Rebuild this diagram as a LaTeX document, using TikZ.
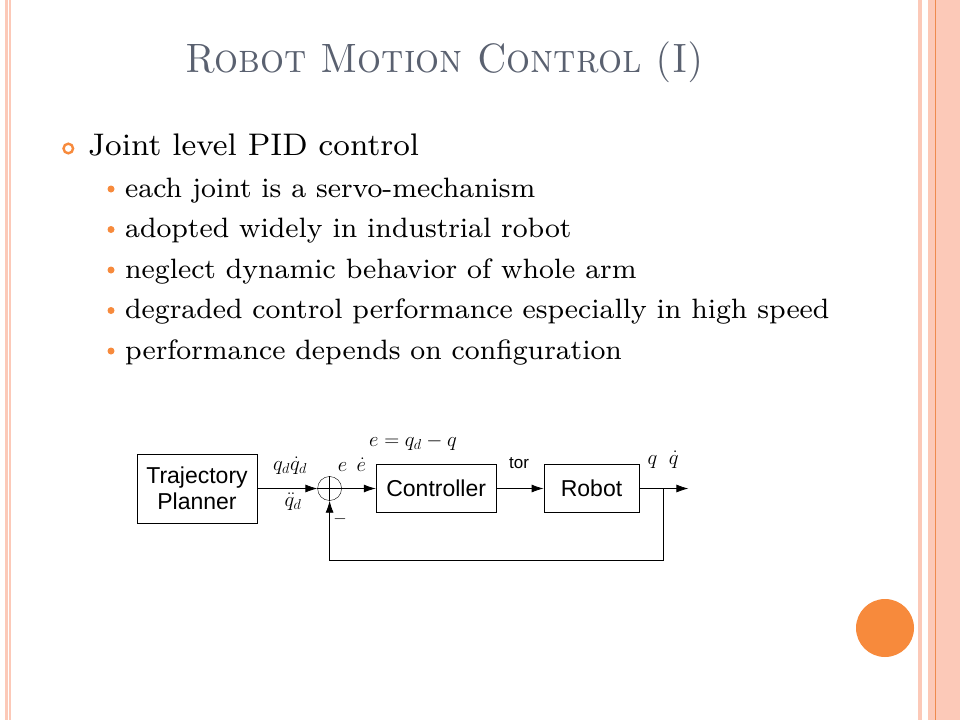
\documentclass[tikz,border=0pt]{standalone}
\usepackage{fontspec}
\newfontfamily\diagfont{Liberation Sans}
\newfontfamily\bodyfont{lmroman8-regular.otf}
\usetikzlibrary{arrows.meta,calc,positioning}
\definecolor{slideorange}{HTML}{F78A3C}
\definecolor{stripepink}{HTML}{FCC9B8}
\definecolor{stripeline}{HTML}{EE8A4E}
\definecolor{titlegray}{HTML}{5A6170}

\begin{document}
\begin{tikzpicture}[
    x=1pt, y=1pt,
    node distance=60pt and 60pt,
    block/.style={draw, thick, minimum height=48pt, align=center, inner sep=0pt, font=\diagfont\fontsize{23}{26}\selectfont},
    sumnode/.style={draw, circle, minimum size=24pt, inner sep=0pt},
    lbl/.style={inner sep=0pt, font=\fontsize{20}{24}\selectfont},
    arrow/.style={-{Latex[length=12pt,width=8pt]}, thick},
    subitem/.style={anchor=base west, inner sep=0pt, font=\bodyfont\fontsize{28}{31}\selectfont},
    dot/.style={circle, fill=slideorange, inner sep=0pt, minimum size=7pt}
]
\useasboundingbox (0,0) rectangle (960,-720);
\fill[white] (0,0) rectangle (960,-720);

% Slide border
\fill[stripepink] (5,0) rectangle (11,-720);
\draw[white, line width=0.6pt] (8,0) -- (8,-720);
\fill[stripepink] (918,0) rectangle (922,-720);
\fill[stripepink] (928,0) rectangle (960,-720);
\draw[stripeline, line width=1.4pt] (935.5,0) -- (935.5,-720);
\fill[slideorange] (885,-628) circle (29);

% Title
\node[anchor=base west, inner sep=0pt, text=titlegray, font=\fontsize{41}{44}\selectfont] (title) at (185,-72) {\scalebox{0.92}[1]{\textsc{Robot Motion Control (I)}}};

% Bullets
\draw[slideorange, line width=2.4pt] (68.3,-148.5) circle (4.8);
\node[anchor=base west, inner sep=0pt, font=\bodyfont\fontsize{31.2}{34}\selectfont] (head) at (88,-155.5) {Joint level PID control};
\foreach \txt [count=\i] in {each joint is a servo-mechanism,
    adopted widely in industrial robot,
    neglect dynamic behavior of whole arm,
    degraded control performance especially in high speed,
    performance depends on configuration} {
  \node[dot] (d\i) at (111,-189-40.5*\i+40.5) {};
  \node[subitem] (s\i) at (125,-197-40.5*\i+40.5) {\txt};
}

% Block diagram
\node[block, minimum width=120pt, minimum height=69pt] (planner) at (197,-488.5) {Trajectory\\Planner};
\node[sumnode, right=60pt of planner] (sum) {};
\draw (sum.north) -- (sum.south) (sum.west) -- (sum.east);
\node[block, minimum width=120pt, right=34pt of sum] (ctrl) {Controller};
\node[block, minimum width=95pt, right=47pt of ctrl] (robot) {Robot};
\coordinate[right=49pt of robot] (out);
\coordinate (branch) at ($(robot.east)!0.48!(out)$);
\coordinate (fb) at ($(branch)+(0,-72)$);

% Labels
\node[lbl] (qd) at (290,-466) {$q_d\dot q_d$};
\node[lbl] (qdd) at (293,-502) {$\ddot q_d$};
\node[lbl] (err) at (352,-465) {$e\;\,\dot e$};
\node[lbl] (errdef) at (413,-442) {$e=q_d-q$};
\node[lbl, font=\diagfont\fontsize{17}{20}\selectfont] (tor) at (519,-463) {tor};
\node[lbl] (qout) at (663,-460) {$q\;\;\dot q$};
\node[lbl, font=\fontsize{16}{18}\selectfont] (minus) at (340,-519) {$-$};

% Arrows
\draw[arrow] (planner) -- (sum);
\draw[arrow] (sum) -- (ctrl);
\draw[arrow] (ctrl) -- (robot);
\draw[arrow] (robot) -- (out);
\draw[arrow] (branch) -- (fb) -| (sum.south);

\end{tikzpicture}
\end{document}
